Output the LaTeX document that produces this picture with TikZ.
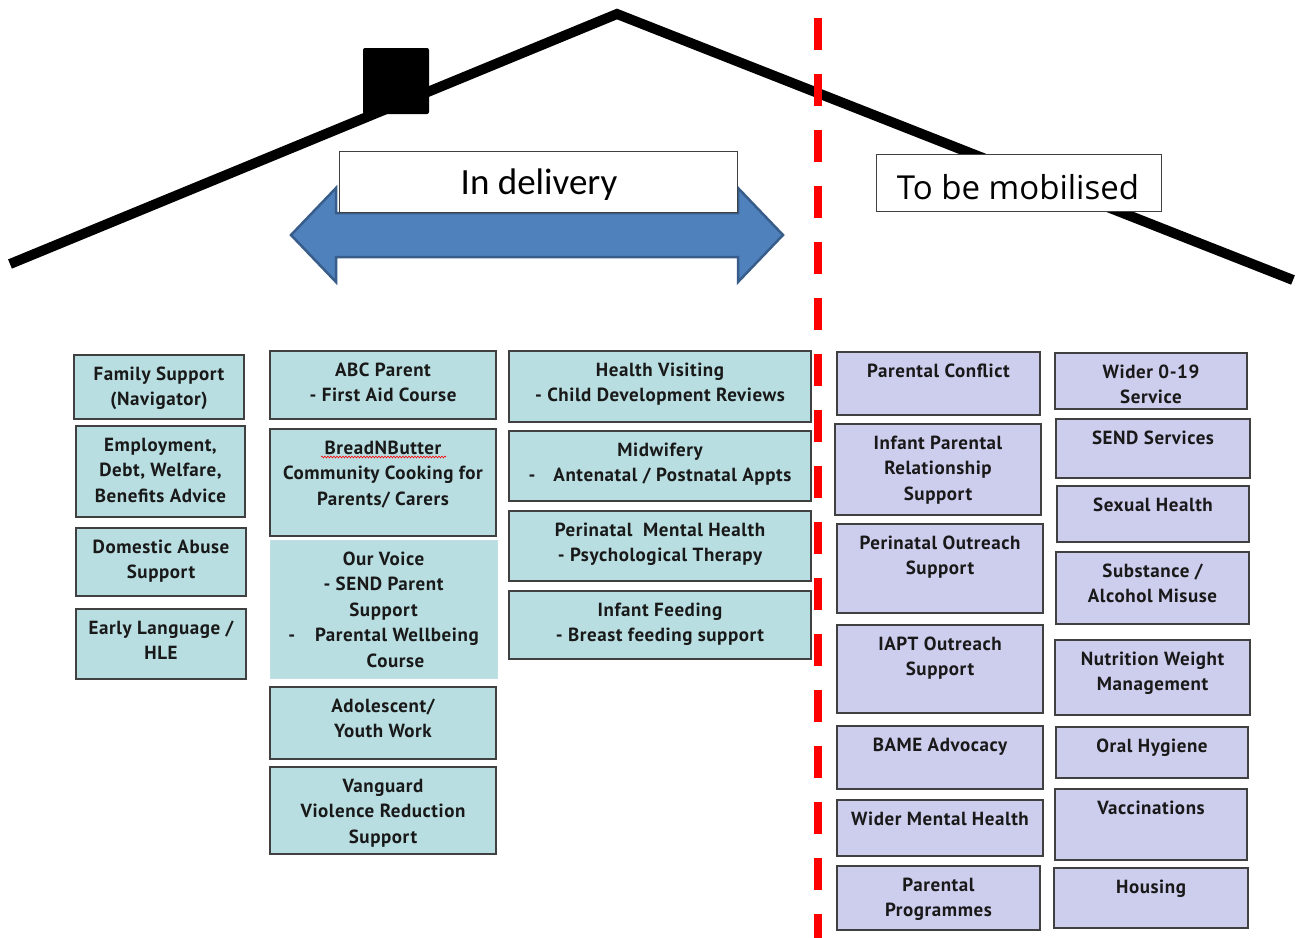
\documentclass[tikz,border=0pt]{standalone}
\usepackage{fontspec}
\setmainfont{PT Sans}
\newfontfamily\boxfont[LetterSpace=3]{PT Sans}
\newfontfamily\calibfont{Carlito}
\newfontfamily\openfont{Open Sans}
\usetikzlibrary{fit,decorations.pathmorphing}
\definecolor{tealfill}{RGB}{184,222,225}
\definecolor{lavfill}{RGB}{205,205,238}
\definecolor{boxline}{RGB}{64,64,64}
\definecolor{arrowfill}{RGB}{79,129,189}
\definecolor{arrowline}{RGB}{56,93,138}
\newcommand\svc[5]{%
  \node[#2, fit={#3 #4}] (#1) {};
  \node[svctext, anchor=north] (#1t) at ([yshift=-11.5pt]#1.north) {\rule{0pt}{14pt}#5};
}
\begin{document}
\begin{tikzpicture}[x=1pt,y=-1pt,
  tealbox/.style={draw=boxline, line width=1.4pt, fill=tealfill, inner sep=0pt},
  tealplain/.style={draw=tealfill!90!white, line width=1pt, fill=tealfill, inner sep=0pt},
  lavbox/.style={draw=boxline, line width=1.4pt, fill=lavfill, inner sep=0pt},
  svctext/.style={font=\boxfont\bfseries\fontsize{19}{25.5}\selectfont, align=center, inner sep=0pt, text=black!90},
  roofline/.style={line width=10pt, line join=miter},
  headbox/.style={draw=black!75, line width=1pt, fill=white, inner sep=0pt},
  divider/.style={draw=red, line width=8pt, dash pattern=on 32pt off 24pt}
]
\useasboundingbox (0,0) rectangle (1301,937);
\fill[white] (0,0) rectangle (1301,937);

% roof
\coordinate (roofL) at (10,264);
\coordinate (roofP) at (617,14);
\coordinate (roofR) at (1293,280);
\draw[roofline] (roofL) -- (roofP) -- (roofR);
\fill[black, rounded corners=2pt] (363,48) rectangle (429,114);

% double arrow
\draw[fill=arrowfill, draw=arrowline, line width=2.5pt, line join=miter]
  (291,235) -- (336,188) -- (336,213) -- (738,213) -- (738,188) -- (783,235)
  -- (738,282) -- (738,257) -- (336,257) -- (336,282) -- cycle;

% header boxes
\node[headbox, fit={(339,151) (737,212)}] (delivbox) {};
\node[font=\calibfont\fontsize{37}{42}\selectfont, inner sep=0pt] (delivtext) at (539,185) {In delivery};
\node[headbox, fit={(876,154) (1161,211)}] (mobbox) {};
\node[font=\openfont\fontsize{33}{40}\selectfont, inner sep=0pt] (mobtext) at (1018,187) {To be mobilised};

% divider
\coordinate (divtop) at (818,18);
\coordinate (divbot) at (818,940);
\draw[divider] (divtop) -- (divbot);

% column 1
\svc{famsup}{tealbox}{(74,355)}{(244,419)}{Family Support\\(Navigator)}
\svc{employ}{tealbox}{(76,426)}{(245,517)}{Employment,\\Debt, Welfare,\\Benefits Advice}
\svc{domab}{tealbox}{(76,528)}{(246,596)}{Domestic Abuse\\Support}
\svc{earlylang}{tealbox}{(76,609)}{(246,679)}{Early Language /\\HLE}

% column 2
\svc{abc}{tealbox}{(270,351)}{(496,419)}{ABC Parent\\- First Aid Course}
\svc{bread}{tealbox}{(270,429)}{(496,536)}{BreadNButter\\Community Cooking for\\Parents/ Carers}
\svc{ourvoice}{tealplain}{(270,540)}{(497,678)}{Our Voice\\- SEND Parent\\Support\\-\hspace{20pt}Parental Wellbeing\\\hspace*{24pt}Course}
\svc{adol}{tealbox}{(270,687)}{(496,759)}{Adolescent/\\Youth Work}
\svc{vang}{tealbox}{(270,767)}{(496,854)}{Vanguard\\Violence Reduction\\Support}
\coordinate (squigA) at (321,457);
\coordinate (squigB) at (446,457);
\draw[red, line width=0.6pt, decorate, decoration={snake, amplitude=0.9pt, segment length=3pt}] (squigA) -- (squigB);

% column 3
\svc{healthv}{tealbox}{(509,351)}{(811,422)}{Health Visiting\\- Child Development Reviews}
\svc{midw}{tealbox}{(509,431)}{(811,501)}{Midwifery\\-\hspace{18pt}Antenatal / Postnatal Appts}
\svc{perimh}{tealbox}{(509,511)}{(811,581)}{Perinatal\ \ Mental Health\\- Psychological Therapy}
\svc{infeed}{tealbox}{(509,591)}{(811,659)}{Infant Feeding\\- Breast feeding support}

% column 4
\svc{parconf}{lavbox}{(837,352)}{(1040,415)}{Parental Conflict}
\svc{infpar}{lavbox}{(835,424)}{(1041,515)}{Infant Parental\\Relationship\\Support}
\svc{perout}{lavbox}{(837,524)}{(1043,613)}{Perinatal Outreach\\Support}
\svc{iapt}{lavbox}{(837,625)}{(1043,713)}{IAPT Outreach\\Support}
\svc{bame}{lavbox}{(837,726)}{(1043,789)}{BAME Advocacy}
\svc{widermh}{lavbox}{(837,800)}{(1043,856)}{Wider Mental Health}
\svc{parprog}{lavbox}{(837,866)}{(1040,930)}{Parental\\Programmes}

% column 5
\svc{wider}{lavbox}{(1055,353)}{(1247,409)}{Wider 0-19\\Service}
\svc{send}{lavbox}{(1056,419)}{(1250,478)}{SEND Services}
\svc{sexh}{lavbox}{(1057,486)}{(1249,542)}{Sexual Health}
\svc{subst}{lavbox}{(1056,552)}{(1249,624)}{Substance /\\Alcohol Misuse}
\svc{nutr}{lavbox}{(1055,640)}{(1250,715)}{Nutrition Weight\\Management}
\svc{oral}{lavbox}{(1056,727)}{(1248,778)}{Oral Hygiene}
\svc{vacc}{lavbox}{(1055,789)}{(1247,860)}{Vaccinations}
\svc{housing}{lavbox}{(1054,868)}{(1248,928)}{Housing}
\end{tikzpicture}
\end{document}
